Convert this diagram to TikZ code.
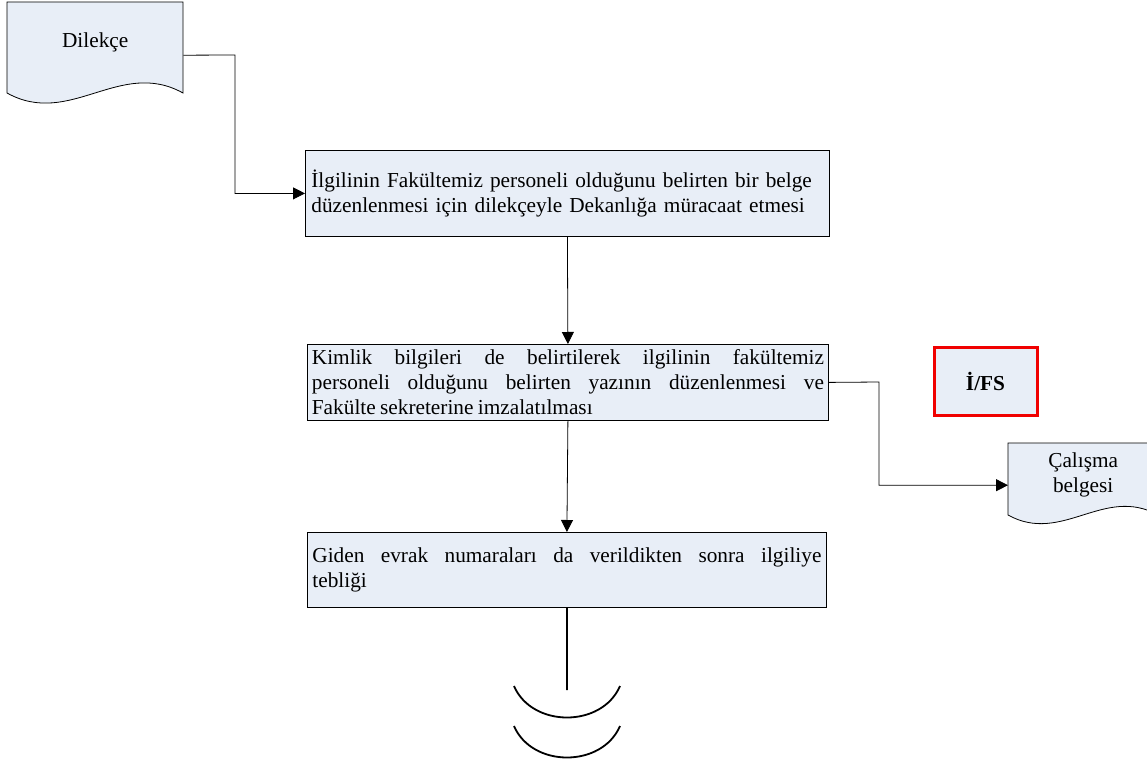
\documentclass[tikz,border=0pt]{standalone}
\usepackage{fontspec}
\setmainfont{Liberation Serif}
\usetikzlibrary{arrows.meta,calc}
\definecolor{boxfill}{RGB}{232,238,247}
\definecolor{ifsred}{RGB}{240,0,0}
\begin{document}
\begin{tikzpicture}[x=1pt,y=-1pt,
  every node/.style={font=\fontsize{21.3}{25}\selectfont},
  procbox/.style={draw=black, fill=boxfill, line width=0.8pt, anchor=north west,
    inner ysep=0pt},
  docarea/.style={anchor=north west, inner sep=0pt, draw=none},
  docline/.style={draw=black, fill=boxfill, line width=0.8pt},
  conn/.style={draw=black, line width=0.8pt},
  arr/.style={conn, -{Triangle[length=12pt,width=12pt]}},
  endline/.style={draw=black, line width=1.8pt}]
\clip (0,0) rectangle (1147,765);

% Dilekce document shape
\node[docarea, minimum width=176pt, minimum height=106pt] (dilekce) at (7,2) {};
\path[docline] (7,2) -- (183,2) -- (183,93)
  .. controls (120,58) and (70,128) .. (7,93) -- cycle;
\node (dilekcetext) at (dilekce.center) [yshift=13pt] {Dilekçe};

% process boxes
\node[procbox, inner xsep=6pt, text width=512pt, minimum width=524pt,
  minimum height=86pt, align=left] (box1) at (305,150)
  {İlgilinin Fakültemiz personeli olduğunu belirten bir belge\\
   düzenlenmesi için dilekçeyle Dekanlığa müracaat etmesi};

\node[procbox, inner xsep=4.5pt, text width=512pt, minimum width=521pt,
  minimum height=76pt, align=justify] (box2) at (307,344)
  {Kimlik bilgileri de belirtilerek ilgilinin fakültemiz\linebreak
   personeli olduğunu belirten yazının düzenlenmesi ve\linebreak
   Fakülte\kern-1pt\ sekreterine\kern-1pt\ imzalatılması};

\node[procbox, inner xsep=5pt, text width=509pt, minimum width=519pt,
  minimum height=75pt, align=justify] (box3) at (307,532)
  {Giden evrak numaraları da verildikten sonra ilgiliye\linebreak tebliği};

% responsible unit
\node[draw=ifsred, fill=boxfill, line width=3pt, anchor=north west,
  minimum width=103pt, minimum height=68pt, font=\fontsize{21.3}{25}\selectfont\bfseries]
  (ifs) at (932.5,345.5) {İ/FS};

% Calisma belgesi document shape
\node[docarea, minimum width=150pt, minimum height=84pt] (calisma) at (1008,443) {};
\path[docline] (1008,443) -- (1158,443) -- (1158,515)
  .. controls (1104,485) and (1062,545) .. (1008,515) -- cycle;
\node[align=center] (calismatext) at (calisma.center) [xshift=0pt, yshift=10pt]
  {Çalışma\\belgesi};

% connectors
\coordinate (bend1) at (235,55);
\draw[arr] (dilekce.east) -- (bend1) |- (box1.west);
\draw[arr] (box1.south) -- (box2.north);
\draw[arr] (box2.south) -- (box3.north);
\coordinate (bend2) at (879,382);
\draw[arr] (box2.east) -- (bend2) |- (calisma.west);

% off-page end
\coordinate (endpt) at (567,690);
\draw[endline] (box3.south) -- (endpt);
\draw[endline] (514,686) .. controls (532,728) and (602,728) .. (620,686);
\draw[endline] (514,726) .. controls (532,768) and (602,768) .. (620,726);
\end{tikzpicture}
\end{document}
